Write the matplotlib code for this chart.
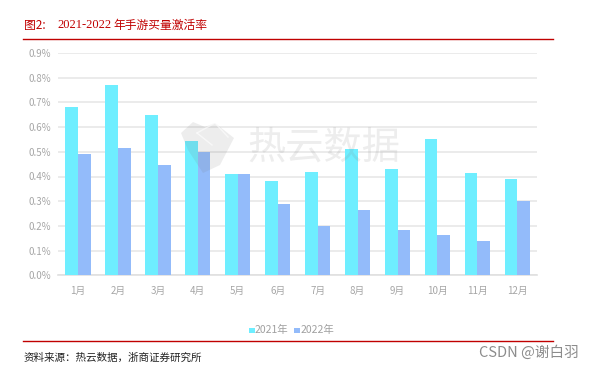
#!/usr/bin/env python3
import numpy as np
import matplotlib
matplotlib.use("Agg")
import matplotlib.pyplot as plt
from matplotlib.lines import Line2D
from matplotlib.patches import Polygon

plt.rcParams['font.family'] = ['Noto Sans CJK SC', 'DejaVu Sans']

W = 593
H = 369

months = ['1月', '2月', '3月', '4月', '5月', '6月', '7月', '8月', '9月', '10月', '11月', '12月']
rate_2021 = [0.68, 0.77, 0.65, 0.545, 0.41, 0.38, 0.42, 0.51, 0.43, 0.55, 0.415, 0.39]
rate_2022 = [0.49, 0.515, 0.445, 0.50, 0.41, 0.29, 0.20, 0.265, 0.185, 0.165, 0.14, 0.30]
y_ticks = [0.0, 0.1, 0.2, 0.3, 0.4, 0.5, 0.6, 0.7, 0.8, 0.9]
series_names = ['2021年', '2022年']

COL_2021 = '#6eeeff'
COL_2022 = '#93bbfa'
COL_RED = '#c00000'
COL_TXT = '#a6a6a6'


def fx(px):
    return px / W


def fy(px):
    # pixel rows count from the top
    return 1 - px / H


def px_poly(points, **kw):
    # polygon given in reference pixels, drawn on the figure
    pts = [[fx(a), fy(b)] for a, b in points]
    fig.patches.append(Polygon(pts, closed=True, transform=fig.transFigure, edgecolor='none', **kw))


fig = plt.figure(figsize=(W / 100, H / 100), dpi=100)
ax = fig.add_axes([fx(58), fy(275.3), fx(537.3 - 58), (275.3 - 53) / H])

x = np.arange(len(months))
width = 0.318
ax.bar(x - width / 2, rate_2021, width, color=COL_2021, zorder=3)
ax.bar(x + width / 2, rate_2022, width, color=COL_2022, zorder=3)

ax.set_xlim(-0.5, 11.5)
ax.set_ylim(0, 0.9)
ax.set_yticks(y_ticks)
ax.set_yticklabels(['{:.1f}%'.format(v) for v in y_ticks])
ax.set_xticks(x)
ax.set_xticklabels(months)
ax.tick_params(axis='both', length=0, labelsize=7, labelcolor=COL_TXT)
ax.tick_params(axis='x', pad=7.5)
ax.tick_params(axis='y', pad=5)
ax.grid(axis='y', color='#e8e8e8', linewidth=1.2, zorder=0)
ax.set_axisbelow(True)
for s in ['top', 'right', 'left']:
    ax.spines[s].set_visible(False)
ax.spines['bottom'].set_color('#e0e0e0')
ax.spines['bottom'].set_linewidth(1.2)

# header and footer rules
fig.add_artist(Line2D([fx(23), fx(553)], [fy(38.5), fy(38.5)], color=COL_RED, linewidth=1.0))
fig.add_artist(Line2D([fx(23), fx(553)], [fy(341), fy(341)], color=COL_RED, linewidth=1.0))

fig.text(fx(24), fy(25), '图2:', color=COL_RED, fontsize=8.5, va='center', ha='left')
fig.text(fx(57), fy(25), '2021-2022', color=COL_RED, fontsize=9, va='center', ha='left', family='Liberation Serif')
fig.text(fx(113), fy(25), '年手游买量激活率', color=COL_RED, fontsize=8.5, va='center', ha='left')
# full-width colon and comma
fig.text(fx(24), fy(358), '资料来源\uff1a热云数据\uff0c浙商证券研究所', color='#222222', fontsize=7.6,
         va='center', ha='left')

# legend
px_poly([(249, 333), (254.5, 333), (254.5, 327.5), (249, 327.5)], facecolor=COL_2021)
px_poly([(294, 333), (299.5, 333), (299.5, 327.5), (294, 327.5)], facecolor=COL_2022)
fig.text(fx(255), fy(330), series_names[0], color='#a0a0a0', fontsize=7.5, va='center', ha='left')
fig.text(fx(300.5), fy(330), series_names[1], color='#a0a0a0', fontsize=7.5, va='center', ha='left')

# 热云 watermark, logo then text
px_poly([(181, 133), (193, 122), (205, 127), (215, 123), (234, 138), (220, 165), (203, 173), (188, 150)],
        facecolor='#777777', alpha=0.13, zorder=5)
fig.add_artist(Line2D([fx(197), fx(215), fx(228)], [fy(133), fy(123), fy(137)], color='white', alpha=0.6,
                      linewidth=1.0, zorder=6))
fig.add_artist(Line2D([fx(197), fx(212)], [fy(133), fy(145)], color='white', alpha=0.6, linewidth=1.0, zorder=6))
fig.text(fx(247), fy(148), '热云数据', color='#888888', alpha=0.15, fontsize=27.5, va='center', ha='left', zorder=5)

# CSDN watermark
fig.text(fx(479), fy(353), 'CSDN @谢白羽', color='#8c8c8c', fontsize=10.5, va='center', ha='left')

fig.savefig('out.png', dpi=100)
